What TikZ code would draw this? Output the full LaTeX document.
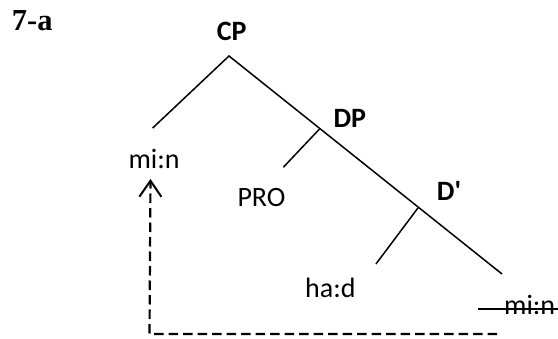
\documentclass[tikz,border=0pt]{standalone}
\usepackage{fontspec}
\setmainfont{Carlito}
\newfontfamily\serifbold{Liberation Serif}
\usetikzlibrary{arrows.meta,calc}
\begin{document}
\begin{tikzpicture}[x=1pt,y=1pt,
  lab/.style={inner sep=0pt,anchor=base west,font=\fontsize{28}{30}\selectfont},
  blab/.style={lab,font=\fontsize{28}{30}\selectfont\bfseries},
  branch/.style={line width=1.5pt},
  movearrow/.style={line width=2.2pt,dash pattern=on 9.5pt off 5pt,-{Straight Barb[length=16pt,width=22pt,line width=2pt]}}]
\useasboundingbox (0,0) rectangle (558,-339);
% title
\node[inner sep=0pt,anchor=base west,font=\serifbold\fontsize{30.5}{32}\selectfont\bfseries] (title) at (11.7,-30.7) {7-a};
% labels
\node[blab] (cp) at (216.7,-40.7) {CP};
\node[blab] (dp) at (333.3,-127.3) {DP};
\node[blab] (dbar) at (436.7,-201) {D\textquotesingle};
\node[lab] (min1) at (128.3,-168.3) {mi:n};
\node[lab] (pro) at (237.3,-206.7) {PRO};
\node[lab] (had) at (305,-298) {ha:d};
\node[lab] (min2) at (504,-315) {mi:n};
% tree junctions
\coordinate (apex) at (229,-56);
\coordinate (lend) at (152.7,-128);
\coordinate (mend) at (502,-274);
\coordinate (dpj) at ($(apex)!0.333!(mend)$);
\coordinate (dbj) at ($(apex)!0.694!(mend)$);
\coordinate (proend) at (283.3,-167.3);
\coordinate (hadend) at (376,-264);
\draw[branch] (lend) -- (apex) -- (mend);
\draw[branch] (dpj) -- (proend);
\draw[branch] (dbj) -- (hadend);
% strike-through
\coordinate (sts) at (478,-309);
\coordinate (ste) at (558,-309);
\draw[line width=1.4pt] (sts) -- (ste);
% movement arrow
\coordinate (astart) at (497,-334);
\coordinate (acorner) at (149.5,-334);
\coordinate (atip) at (150.5,-179);
\draw[movearrow] (astart) -- (acorner) -- (atip);
\end{tikzpicture}
\end{document}
